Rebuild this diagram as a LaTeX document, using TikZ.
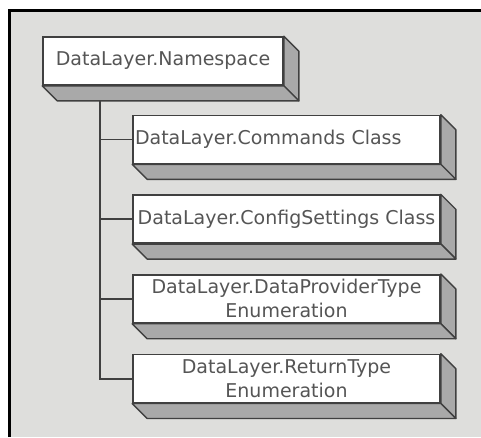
\documentclass[tikz,border=0pt]{standalone}
\usepackage{fontspec}
\setmainfont{DejaVu Sans}
\usetikzlibrary{positioning}
\definecolor{panel}{HTML}{DEDEDC}
\definecolor{side}{HTML}{A9A9A9}
\definecolor{edge}{HTML}{404040}
\definecolor{ink}{HTML}{555555}
\tikzset{
  box/.style={rectangle,draw=edge,fill=white,line width=1.7pt,align=center,inner sep=1.5pt,minimum width=307pt,minimum height=48pt,text=ink,font=\fontsize{19}{24}\selectfont},
  depth/.style={fill=side,draw=edge,line width=1.4pt,line join=round},
  line/.style={draw=edge,line width=1.8pt}
}

\begin{document}
\begin{tikzpicture}[x=1pt,y=-1pt,node distance=30pt]
\useasboundingbox (0,0) rectangle (481,437);
% panel
\fill[panel] (9,10) rectangle (481,437);
\draw[black,line width=3pt] (9,437) -- (9,10) -- (481,10);

\node[box, minimum width=240pt] (ns) at (163,61) {DataLayer.Namespace};
\node[box, text width=303pt, align=left] (cmd) at (286.5,139.5) {DataLayer.Commands Class};
\node[box, below=of cmd] (cfg) {DataLayer.ConfigSettings Class};
\node[box, below=of cfg] (dpt) {DataLayer.DataProviderType\\Enumeration};
\node[box, below=of dpt] (rt) {DataLayer.ReturnType\\Enumeration};

% tree lines
\coordinate (trunk) at ([xshift=58pt]ns.south west);
\draw[line] (trunk) |- (rt.west);
\draw[line] (trunk |- cmd.west) -- (cmd.west);
\draw[line] (trunk |- cfg.west) -- (cfg.west);
\draw[line] (trunk |- dpt.west) -- (dpt.west);

% 3d sides
\foreach \n in {ns,cmd,cfg,dpt,rt} {
  \filldraw[depth] (\n.north east) -- ++(15,15) -- ([shift={(15,15)}]\n.south east) -- (\n.south east) -- cycle;
  \filldraw[depth] (\n.south west) -- ++(15,15) -- ([shift={(15,15)}]\n.south east) -- (\n.south east) -- cycle;
}
\end{tikzpicture}
\end{document}
